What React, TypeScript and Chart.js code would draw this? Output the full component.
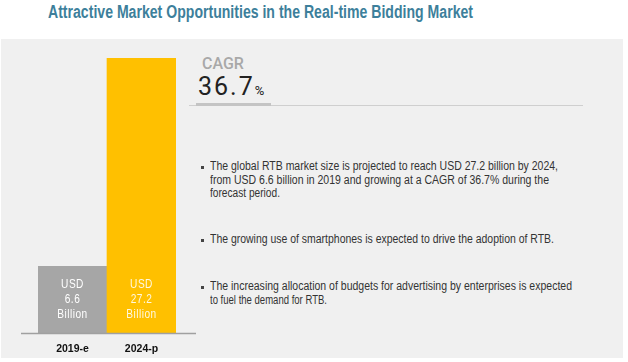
import { useEffect, useLayoutEffect, useRef } from "react";
import { Chart, registerables } from "chart.js";

Chart.register(...registerables);

const title = "Attractive Market Opportunities in the Real-time Bidding Market";
const categories = ["2019-e", "2024-p"];
const values = [6.6, 27.2];
const valueLabels = ["6.6", "27.2"];
const unitTop = "USD";
const unitBottom = "Billion";
const barColors = ["#a6a6a6", "#ffc000"];
const barLabelColors = ["#ffffff", "#fff8e0"];
const cagrLabel = "CAGR";
const cagrValue = "36.7";
const bullets: string[][] = [
  [
    "The global RTB market size is projected to reach USD 27.2 billion by 2024,",
    "from USD 6.6 billion in 2019 and growing at a CAGR of 36.7% during the",
    "forecast period.",
  ],
  ["The growing use of smartphones is expected to drive the adoption of RTB."],
  [
    "The increasing allocation of budgets for advertising by enterprises is expected",
    "to fuel the demand for RTB.",
  ],
];
const bulletLineWidths: number[][] = [[348, 339, 70], [344], [362, 117]];
const bulletTops = [160, 233, 280];

const FONT = "'Liberation Sans', Arial, sans-serif";

function FitText({ text, width, style }: { text: string; width: number; style?: any }) {
  const ref = useRef<HTMLSpanElement | null>(null);
  useLayoutEffect(() => {
    const el = ref.current;
    if (!el) return;
    el.style.transform = "none";
    const w = el.getBoundingClientRect().width;
    if (w > 0) el.style.transform = `scaleX(${width / w})`;
  }, [text, width]);
  return (
    <span
      ref={ref}
      style={{ display: "inline-block", transformOrigin: "left top", whiteSpace: "nowrap", ...style }}
    >
      {text}
    </span>
  );
}

const overlayPlugin = {
  id: "overlay",
  afterDatasetsDraw(chart: any) {
    const ctx = chart.ctx as CanvasRenderingContext2D;
    const area = chart.chartArea;
    const y0 = chart.scales.y.getPixelForValue(0);
    ctx.save();
    ctx.strokeStyle = "#a0a0a0";
    ctx.lineWidth = 1.5;
    ctx.beginPath();
    ctx.moveTo(area.left - 17, y0 + 0.5);
    ctx.lineTo(area.right + 20, y0 + 0.5);
    ctx.stroke();
    const meta = chart.getDatasetMeta(0);
    ctx.font = `13px ${FONT}`;
    ctx.textAlign = "center";
    ctx.textBaseline = "middle";
    (ctx as any).letterSpacing = "0.6px";
    meta.data.forEach((bar: any, i: number) => {
      ctx.fillStyle = barLabelColors[i];
      const lines = [unitTop, valueLabels[i], unitBottom];
      lines.forEach((t, k) => {
        ctx.save();
        ctx.translate(bar.x, y0 - 49 + k * 15);
        ctx.scale(0.78, 1);
        ctx.fillText(t, 0, 0);
        ctx.restore();
      });
    });
    ctx.restore();
  },
};

function BarChart() {
  const ref = useRef<HTMLCanvasElement | null>(null);
  useEffect(() => {
    if (!ref.current) return;
    const chart = new Chart(ref.current, {
      type: "bar",
      data: {
        labels: categories,
        datasets: [
          {
            data: values,
            backgroundColor: barColors,
            borderWidth: 0,
            barPercentage: 1,
            categoryPercentage: 1,
          },
        ],
      },
      options: {
        responsive: false,
        animation: false,
        devicePixelRatio: 1,
        layout: { padding: { left: 38, right: 452, top: 58, bottom: 6 } },
        plugins: { legend: { display: false }, tooltip: { enabled: false }, title: { display: false } },
        scales: {
          x: {
            grid: { display: false, drawTicks: false },
            border: { display: false },
            afterFit: (scale: any) => {
              scale.height = 23;
            },
            ticks: {
              color: "#111111",
              padding: 10,
              maxRotation: 0,
              font: { family: FONT, size: 10.5, weight: "bold" },
            },
          },
          y: { display: false, min: 0, max: 27.2 },
        },
      },
      plugins: [overlayPlugin],
    });
    return () => chart.destroy();
  }, []);
  return (
    <canvas
      ref={ref}
      width={628}
      height={362}
      style={{ position: "absolute", left: 0, top: 0, width: 628, height: 362 }}
    />
  );
}

export default function App() {
  return (
    <div
      style={{
        position: "fixed",
        left: 0,
        top: 0,
        width: 628,
        height: 362,
        background: "#ffffff",
        overflow: "hidden",
        fontFamily: FONT,
      }}
    >
      <div
        style={{
          position: "absolute",
          left: 48,
          top: 1,
          fontSize: 18,
          fontWeight: "bold",
          color: "#3d7f9b",
          lineHeight: "22px",
        }}
      >
        <FitText text={title} width={425} />
      </div>
      <div
        style={{ position: "absolute", left: 1, top: 39, width: 622, height: 319, background: "#f0f0f0" }}
      />
      <div
        style={{
          position: "absolute",
          left: 202,
          top: 54,
          fontFamily: "Roboto, sans-serif",
          fontWeight: 500,
          fontSize: 16,
          color: "#a8a8a8",
          lineHeight: "20px",
        }}
      >
        {cagrLabel}
      </div>
      <div
        style={{
          position: "absolute",
          left: 198,
          top: 72,
          fontFamily: "Roboto, sans-serif",
          fontSize: 25,
          color: "#222222",
          lineHeight: "30px",
          letterSpacing: 2,
          whiteSpace: "nowrap",
        }}
      >
        {cagrValue}
        <span style={{ fontSize: 13, letterSpacing: 0 }}>%</span>
      </div>
      <div style={{ position: "absolute", left: 189, top: 105, width: 394, height: 1, background: "#cfcfcf" }} />
      <div style={{ position: "absolute", left: 196, top: 103, width: 75, height: 3, background: "#c4c4c4" }} />
      {bullets.map((lines, i) => (
        <div
          key={i}
          style={{
            position: "absolute",
            left: 210,
            top: bulletTops[i],
            fontSize: 12.5,
            lineHeight: "13.7px",
            color: "#333333",
            whiteSpace: "nowrap",
          }}
        >
          <div
            style={{ position: "absolute", left: -9, top: 6, width: 3, height: 3, background: "#444444" }}
          />
          {lines.map((l, k) => (
            <div key={k} style={{ height: 13.7 }}>
              <FitText text={l} width={bulletLineWidths[i][k]} />
            </div>
          ))}
        </div>
      ))}
      <BarChart />
    </div>
  );
}
